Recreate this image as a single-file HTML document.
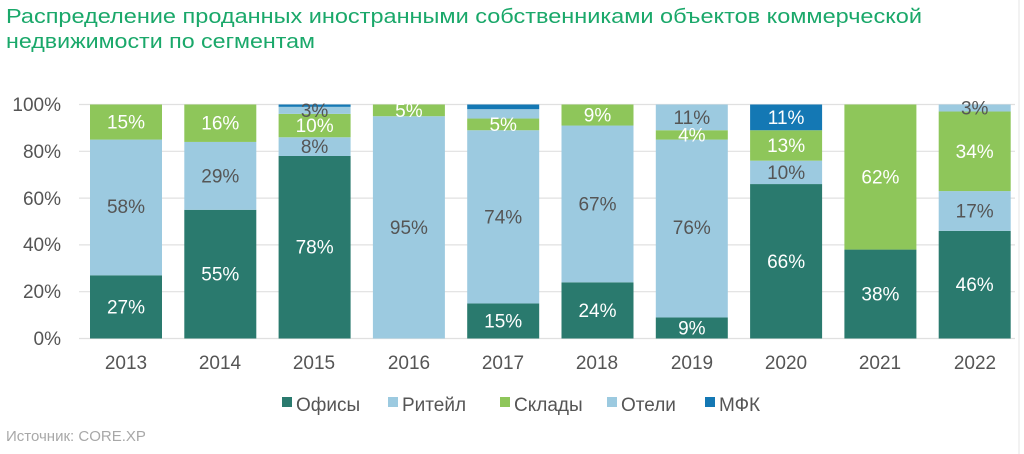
<!DOCTYPE html>
<html><head><meta charset="utf-8"><style>
html,body{margin:0;padding:0;background:#fff;}
svg{display:block;font-family:"Liberation Sans","DejaVu Sans",sans-serif;}
</style></head><body>
<svg width="1024" height="454" viewBox="0 0 1024 454" xmlns="http://www.w3.org/2000/svg">
<text x="6" y="23" font-size="20" fill="#1aa86a" textLength="916" lengthAdjust="spacingAndGlyphs">Распределение проданных иностранными собственниками объектов коммерческой</text>
<text x="6" y="48" font-size="20" fill="#1aa86a" textLength="309" lengthAdjust="spacingAndGlyphs">недвижимости по сегментам</text>
<line x1="1019" y1="0" x2="1019" y2="454" stroke="#e4e4e4" stroke-width="1"/>
<g stroke="#e0e0e0" stroke-width="1.2">
<line x1="79" y1="104.5" x2="1015" y2="104.5"/>
<line x1="79" y1="151.3" x2="1015" y2="151.3"/>
<line x1="79" y1="198.1" x2="1015" y2="198.1"/>
<line x1="79" y1="244.9" x2="1015" y2="244.9"/>
<line x1="79" y1="291.7" x2="1015" y2="291.7"/>
<line x1="79" y1="338.5" x2="1015" y2="338.5"/>
</g>
<g font-size="19" fill="#555" text-anchor="end">
<text x="61" y="111">100%</text><text x="61" y="158">80%</text><text x="61" y="205">60%</text>
<text x="61" y="251">40%</text><text x="61" y="298">20%</text><text x="61" y="345">0%</text>
</g>
<g>
<rect x="90" y="275.32" width="72" height="63.18" fill="#2a7a6e"/>
<rect x="90" y="139.6" width="72" height="135.72" fill="#9ccae0"/>
<rect x="90" y="104.5" width="72" height="35.1" fill="#8ec65a"/>
<rect x="184.3" y="209.8" width="72" height="128.7" fill="#2a7a6e"/>
<rect x="184.3" y="141.94" width="72" height="67.86" fill="#9ccae0"/>
<rect x="184.3" y="104.5" width="72" height="37.44" fill="#8ec65a"/>
<rect x="278.6" y="155.98" width="72" height="182.52" fill="#2a7a6e"/>
<rect x="278.6" y="137.26" width="72" height="18.72" fill="#9ccae0"/>
<rect x="278.6" y="113.86" width="72" height="23.4" fill="#8ec65a"/>
<rect x="278.6" y="106.84" width="72" height="7.02" fill="#9ccae0"/>
<rect x="278.6" y="104.5" width="72" height="2.34" fill="#1478b4"/>
<rect x="372.9" y="116.2" width="72" height="222.3" fill="#9ccae0"/>
<rect x="372.9" y="104.5" width="72" height="11.7" fill="#8ec65a"/>
<rect x="467.2" y="303.4" width="72" height="35.1" fill="#2a7a6e"/>
<rect x="467.2" y="130.24" width="72" height="173.16" fill="#9ccae0"/>
<rect x="467.2" y="118.54" width="72" height="11.7" fill="#8ec65a"/>
<rect x="467.2" y="109.18" width="72" height="9.36" fill="#9ccae0"/>
<rect x="467.2" y="104.5" width="72" height="4.68" fill="#1478b4"/>
<rect x="561.5" y="282.34" width="72" height="56.16" fill="#2a7a6e"/>
<rect x="561.5" y="125.56" width="72" height="156.78" fill="#9ccae0"/>
<rect x="561.5" y="104.5" width="72" height="21.06" fill="#8ec65a"/>
<rect x="655.8" y="317.44" width="72" height="21.06" fill="#2a7a6e"/>
<rect x="655.8" y="139.6" width="72" height="177.84" fill="#9ccae0"/>
<rect x="655.8" y="130.24" width="72" height="9.36" fill="#8ec65a"/>
<rect x="655.8" y="104.5" width="72" height="25.74" fill="#9ccae0"/>
<rect x="750.1" y="184.06" width="72" height="154.44" fill="#2a7a6e"/>
<rect x="750.1" y="160.66" width="72" height="23.4" fill="#9ccae0"/>
<rect x="750.1" y="130.24" width="72" height="30.42" fill="#8ec65a"/>
<rect x="750.1" y="104.5" width="72" height="25.74" fill="#1478b4"/>
<rect x="844.4" y="249.58" width="72" height="88.92" fill="#2a7a6e"/>
<rect x="844.4" y="104.5" width="72" height="145.08" fill="#8ec65a"/>
<rect x="938.7" y="230.86" width="72" height="107.64" fill="#2a7a6e"/>
<rect x="938.7" y="191.08" width="72" height="39.78" fill="#9ccae0"/>
<rect x="938.7" y="111.52" width="72" height="79.56" fill="#8ec65a"/>
<rect x="938.7" y="104.5" width="72" height="7.02" fill="#9ccae0"/>
</g>
<g font-size="19" text-anchor="middle" fill="#fff">
<text x="126" y="313.4">27%</text><text x="126" y="128.6">15%</text>
<text x="220.3" y="280.7">55%</text><text x="220.3" y="129.7">16%</text>
<text x="314.6" y="253.7">78%</text><text x="314.6" y="132.1">10%</text>
<text x="408.9" y="116.9">5%</text>
<text x="503.2" y="327.5">15%</text><text x="503.2" y="130.9">5%</text>
<text x="597.5" y="316.9">24%</text><text x="597.5" y="121.5">9%</text>
<text x="691.8" y="334.5">9%</text><text x="691.8" y="141.4">4%</text>
<text x="786.1" y="267.8">66%</text><text x="786.1" y="151.9">13%</text><text x="786.1" y="123.9">11%</text>
<text x="880.4" y="300.5">38%</text><text x="880.4" y="183.5">62%</text>
<text x="974.7" y="291.2">46%</text><text x="974.7" y="157.8">34%</text>
</g>
<g font-size="19" text-anchor="middle" fill="#555">
<text x="126" y="213">58%</text>
<text x="220.3" y="182.4">29%</text>
<text x="314.6" y="153.1">8%</text><text x="314.6" y="116.9">3%</text>
<text x="408.9" y="233.9">95%</text>
<text x="503.2" y="223.3">74%</text>
<text x="597.5" y="210.4">67%</text>
<text x="691.8" y="234">76%</text><text x="691.8" y="123.9">11%</text>
<text x="786.1" y="178.9">10%</text>
<text x="974.7" y="217.5">17%</text><text x="974.7" y="114.5">3%</text>
</g>
<g font-size="19" fill="#555" text-anchor="middle">
<text x="126" y="369">2013</text><text x="220" y="369">2014</text><text x="314" y="369">2015</text>
<text x="409" y="369">2016</text><text x="503" y="369">2017</text><text x="597" y="369">2018</text>
<text x="692" y="369">2019</text><text x="786" y="369">2020</text><text x="880" y="369">2021</text>
<text x="975" y="369">2022</text>
</g>
<g font-size="19" fill="#555">
<rect x="282" y="397" width="10" height="10" fill="#2a7a6e"/><text x="296" y="411">Офисы</text>
<rect x="388" y="397" width="10" height="10" fill="#9ccae0"/><text x="402" y="411">Ритейл</text>
<rect x="500" y="397" width="10" height="10" fill="#8ec65a"/><text x="514" y="411">Склады</text>
<rect x="607" y="397" width="10" height="10" fill="#9ccae0"/><text x="621" y="411">Отели</text>
<rect x="705" y="397" width="10" height="10" fill="#1478b4"/><text x="719" y="411">МФК</text>
</g>
<text x="6" y="441" font-size="15" fill="#a8a8a8">Источник: CORE.XP</text>
</svg>
</body></html>
